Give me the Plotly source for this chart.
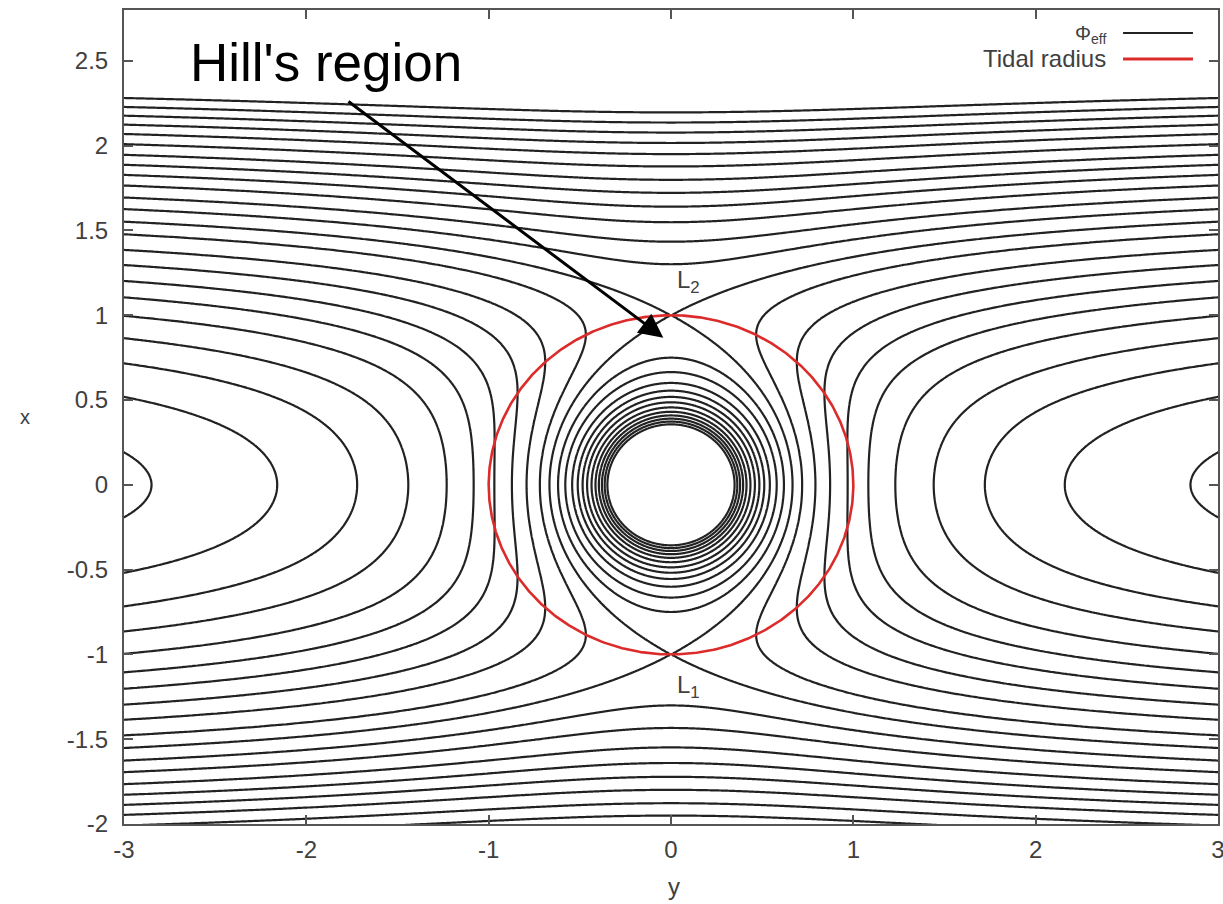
import numpy as np
import plotly.graph_objects as go

# Contour levels of the effective potential (units: G m = Omega = r_t = 1)
phi_levels = [-2.867, -2.750, -2.639, -2.528, -2.415, -2.295, -2.173, -2.063,
              -1.955, -1.845, -1.725, -1.615, -1.500, -1.391, -1.262, -1.146,
              -1.032, -0.924, -0.813, -0.694, -0.581, -0.463, -0.351]
tidal_radius = 1.0

xtick_vals = [-3, -2, -1, 0, 1, 2, 3]
xtick_text = ["-3", "-2", "-1", "0", "1", "2", "3"]
ytick_vals = [-2, -1.5, -1, -0.5, 0, 0.5, 1, 1.5, 2, 2.5]
ytick_text = ["-2", "-1.5", "-1", "-0.5", "0", "0.5", "1", "1.5", "2", "2.5"]

FONT = "Liberation Sans, Arial, Helvetica, sans-serif"
AX_COL = "#555555"
TXT_COL = "#404040"
LINE_COL = "#222222"
RED = "#dc2b2b"

# Grid: horizontal axis is y, vertical axis is x; finer near the point mass
gy = np.concatenate([np.linspace(-3.02, -0.6, 160, endpoint=False),
                     np.linspace(-0.6, 0.6, 300, endpoint=False),
                     np.linspace(0.6, 3.02, 161)])
gx = np.concatenate([np.linspace(-2.05, -0.6, 100, endpoint=False),
                     np.linspace(-0.6, 0.6, 300, endpoint=False),
                     np.linspace(0.6, 2.85, 150)])
YY, XX = np.meshgrid(gy, gx)
r = np.maximum(np.hypot(XX, YY), 1e-4)
phi = np.maximum(-1.0 / r - 0.5 * XX ** 2, -60.0)

# Map the potential onto level indices so each listed level is an integer contour
lv = np.array(phi_levels)
n = len(lv)
z = np.interp(phi, lv, np.arange(n, dtype=float))
lo = phi < lv[0]
hi = phi > lv[-1]
z[lo] = (phi[lo] - lv[0]) / (lv[1] - lv[0])
z[hi] = (n - 1) + (phi[hi] - lv[-1]) / (lv[-1] - lv[-2])

fig = go.Figure()
fig.add_trace(go.Contour(
    x=gy, y=gx, z=z.astype(np.float32),
    contours=dict(start=0, end=n - 1, size=1, coloring="lines", showlabels=False),
    colorscale=[[0, LINE_COL], [1, LINE_COL]],
    showscale=False, line=dict(width=2.2, smoothing=1),
    hoverinfo="skip", name="Φ_eff", showlegend=False,
))

theta = np.linspace(0, 2 * np.pi, 721)
fig.add_trace(go.Scatter(
    x=tidal_radius * np.cos(theta), y=tidal_radius * np.sin(theta),
    mode="lines", line=dict(color=RED, width=2.6),
    name="Tidal radius", showlegend=False, hoverinfo="skip",
))

axis_common = dict(
    ticks="inside", ticklen=9, tickwidth=1.5, tickcolor=AX_COL,
    showline=True, linecolor=AX_COL, linewidth=2, mirror="ticks",
    showgrid=False, zeroline=False, automargin=False,
    ticklabeloverflow="allow",
    tickfont=dict(family=FONT, size=24, color=TXT_COL),
)

annotations = [
    dict(text="Hill's region", x=-1.89, y=2.49, xref="x", yref="y",
         showarrow=False, font=dict(family=FONT, size=53, color="black"),
         xanchor="center", yanchor="middle"),
    dict(text="", x=-0.042, y=0.868, xref="x", yref="y",
         ax=-1.777, ay=2.267, axref="x", ayref="y",
         showarrow=True, arrowhead=2, arrowsize=1.6, arrowwidth=3,
         arrowcolor="black", standoff=0),
    dict(text="L<sub>2</sub>", x=0.095, y=1.2, xref="x", yref="y",
         xanchor="center", yanchor="middle",
         showarrow=False, font=dict(family=FONT, size=24, color=TXT_COL)),
    dict(text="L<sub>1</sub>", x=0.095, y=-1.19, xref="x", yref="y",
         xanchor="center", yanchor="middle",
         showarrow=False, font=dict(family=FONT, size=24, color=TXT_COL)),
    dict(text="y", x=0.503, y=-0.077, xref="paper", yref="paper",
         xanchor="center", yanchor="middle",
         showarrow=False, font=dict(family=FONT, size=24, color=TXT_COL)),
    dict(text="x", x=-0.0905, y=0.5, xref="paper", yref="paper",
         xanchor="center", yanchor="middle",
         showarrow=False, font=dict(family=FONT, size=20, color=TXT_COL)),
    dict(text="Φ<sub>eff</sub>", x=0.8995, y=0.9705, xref="paper", yref="paper",
         xanchor="right", yanchor="middle", showarrow=False,
         font=dict(family=FONT, size=20, color=TXT_COL)),
    dict(text="Tidal radius", x=0.8995, y=0.9405, xref="paper", yref="paper",
         xanchor="right", yanchor="middle", showarrow=False,
         font=dict(family=FONT, size=24, color=TXT_COL)),
]

shapes = [
    dict(type="line", xref="paper", yref="paper", x0=0.9132, x1=0.9771,
         y0=0.9717, y1=0.9717, line=dict(color=LINE_COL, width=2)),
    dict(type="line", xref="paper", yref="paper", x0=0.9132, x1=0.9771,
         y0=0.9398, y1=0.9398, line=dict(color=RED, width=3)),
]

fig.update_layout(
    width=1223, height=904, autosize=False,
    margin=dict(l=124, r=5, t=10, b=80, autoexpand=False),
    paper_bgcolor="white", plot_bgcolor="white",
    xaxis=dict(range=[-3, 3], tickvals=xtick_vals, ticktext=xtick_text,
               ticklabelstandoff=3, **axis_common),
    yaxis=dict(range=[-2, 2.8], tickvals=ytick_vals, ticktext=ytick_text,
               ticklabelstandoff=9, **axis_common),
    annotations=annotations, shapes=shapes,
    font=dict(family=FONT),
)

fig.write_html("out.html")
